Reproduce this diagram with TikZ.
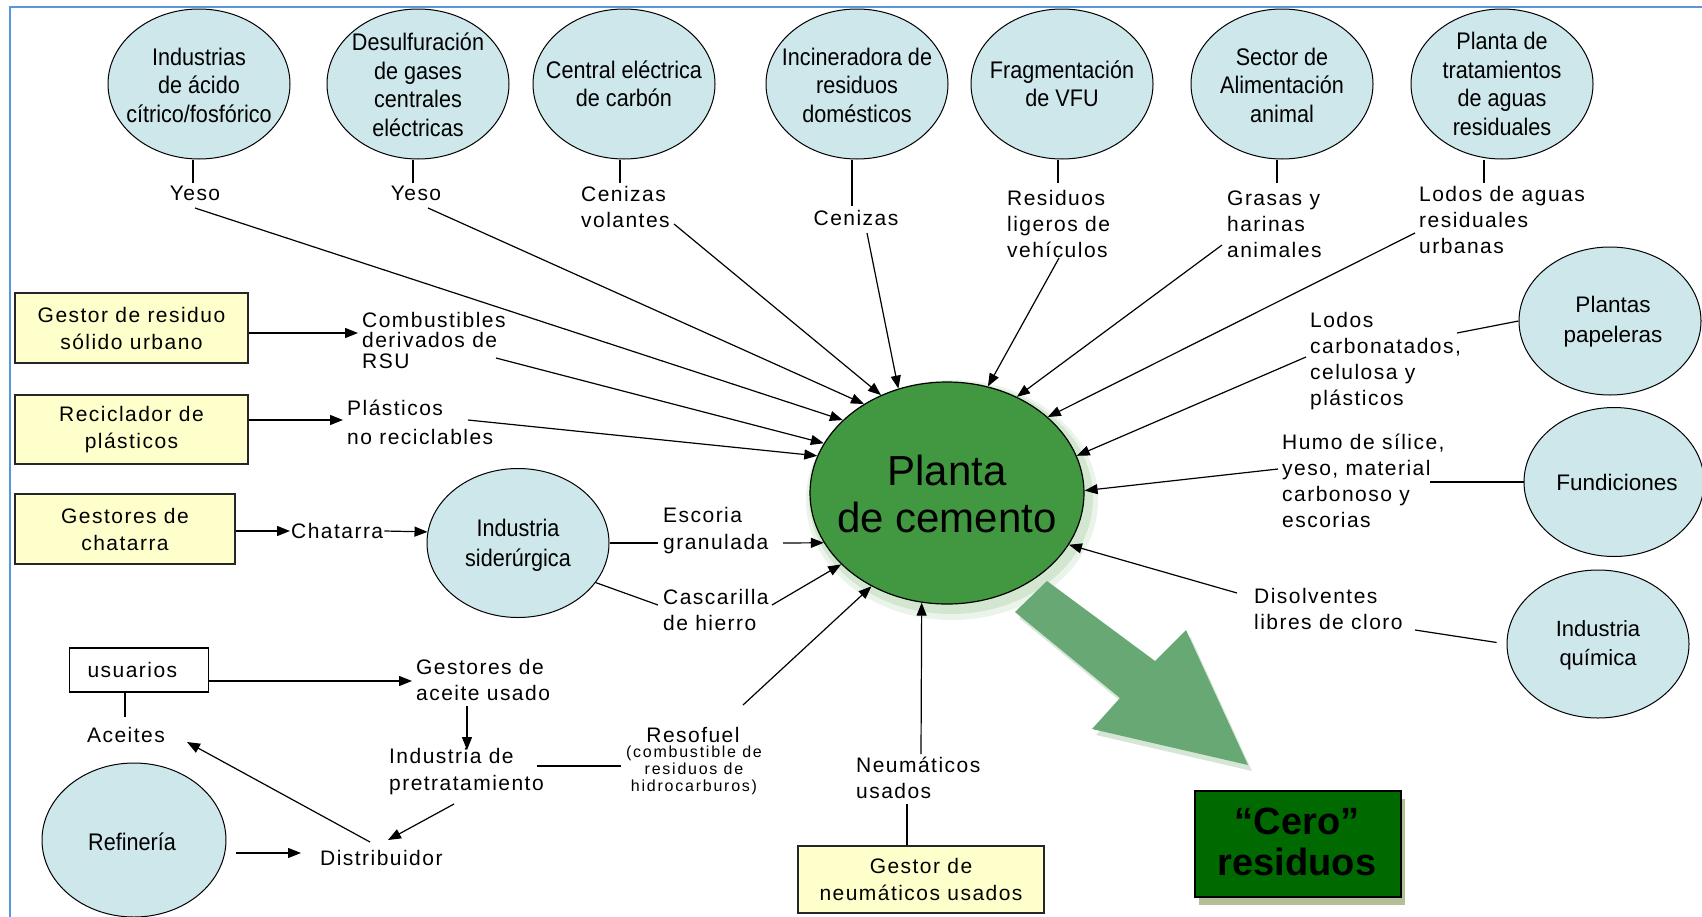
\documentclass[tikz,border=0pt]{standalone}
\usepackage{fontspec}
\setmainfont{Liberation Sans}
\newfontfamily\narrowf[FakeStretch=0.9]{Liberation Sans}
\newfontfamily\spacedf[LetterSpace=7]{Liberation Sans}
\newfontfamily\tinyf[LetterSpace=11]{Liberation Sans}
\usetikzlibrary{shapes.geometric,arrows.meta}
\definecolor{ecyan}{RGB}{205,231,235}
\definecolor{byellow}{RGB}{255,255,204}
\definecolor{cemgreen}{RGB}{65,152,65}
\definecolor{cemglow}{RGB}{60,150,50}
\definecolor{arrgreen}{RGB}{103,168,117}
\definecolor{cerogreen}{RGB}{0,106,0}
\definecolor{ceroshadow}{RGB}{85,115,25}
\definecolor{frameblue}{RGB}{90,150,220}
\tikzset{
 ln/.style={line width=1.2pt, draw=black},
 arr/.style={ln, -{Triangle[length=13pt,width=10pt]}},
 src/.style={ellipse, draw=black, line width=1pt, fill=ecyan, inner sep=0pt, minimum width=182pt, minimum height=150pt},
 etxt/.style={font={\narrowf\fontsize{24}{28.5}\selectfont}, align=center, inner sep=0pt},
 rtxt/.style={font={\fontsize{22.5}{30}\selectfont}, align=center, inner sep=0pt},
 lbl/.style={font={\spacedf\fontsize{21}{26}\selectfont}, align=left, inner sep=1pt},
 ybox/.style={rectangle, draw=black!85, line width=1.2pt, fill=byellow, align=center, font={\spacedf\fontsize{21}{27}\selectfont}, inner sep=0pt},
}
\begin{document}
\begin{tikzpicture}[x=1pt,y=-1pt]
\useasboundingbox (0,0) rectangle (1702,916);
\fill[white] (0,0) rectangle (1702,916);
\draw[frameblue, line width=2pt] (10,920) -- (10,7) -- (1706,7);

% ---------- top source ellipses ----------
\node[src] (e1) at (199,84) {};
\node[etxt] (t1) at (199,85) {Industrias\\de ácido\\cítrico/fosfórico};
\node[src] (e2) at (418,84) {};
\node[etxt] (t2) at (418,85) {Desulfuración\\de gases\\centrales\\eléctricas};
\node[src] (e3) at (624,84) {};
\node[etxt] (t3) at (624,84) {Central eléctrica\\de carbón};
\node[src] (e4) at (857,84) {};
\node[etxt] (t4) at (857,85) {Incineradora de\\residuos\\domésticos};
\node[src] (e5) at (1062,84) {};
\node[etxt] (t5) at (1062,84) {Fragmentación\\de VFU};
\node[src] (e6) at (1282,84) {};
\node[etxt] (t6) at (1282,85) {Sector de\\Alimentación\\animal};
\node[src] (e7) at (1502,84) {};
\node[etxt] (t7) at (1502,84) {Planta de\\tratamientos\\de aguas\\residuales};

% ---------- top labels ----------
\node[lbl] (y1) at (195,193) {Yeso};
\node[lbl] (y2) at (416,193) {Yeso};
\node[lbl, anchor=west] (cv) at (580,206.5) {Cenizas\\volantes};
\node[lbl] (cz) at (856,218) {Cenizas};
\node[lbl, anchor=west] (rl) at (1006,224) {Residuos\\ligeros de\\vehículos};
\node[lbl, anchor=west] (gh) at (1226,224) {Grasas y\\harinas\\animales};
\node[lbl, anchor=west] (la) at (1418,220) {Lodos de aguas\\residuales\\urbanas};

\coordinate (s1) at (193,183);
\coordinate (s2) at (413,183);
\coordinate (s3) at (620,183);
\coordinate (s4) at (852,206);
\coordinate (s5) at (1058,183);
\coordinate (s6) at (1277,183);
\coordinate (s7) at (1484,183);
\draw[ln] (e1.south -| s1) -- (s1);
\draw[ln] (e2.south -| s2) -- (s2);
\draw[ln] (e3.south -| s3) -- (s3);
\draw[ln] (e4.south -| s4) -- (s4);
\draw[ln] (e5.south -| s5) -- (s5);
\draw[ln] (e6.south -| s6) -- (s6);
\draw[ln] (e7.south -| s7) -- (s7);

% ---------- central plant ----------
\fill[cemglow, opacity=0.10] (952,500) ellipse [x radius=146pt, y radius=120pt];
\fill[cemglow, opacity=0.14] (951,498) ellipse [x radius=142pt, y radius=116pt];
\node[ellipse, draw=black, line width=1.2pt, fill=cemgreen, inner sep=0pt, minimum width=274pt, minimum height=222pt] (cem) at (947,493) {};
\node[font={\fontsize{42}{47}\selectfont}, align=center, inner sep=0pt] (cemtxt) at (947,494) {Planta\\de cemento};

% ---------- big arrow ----------
\fill[green!40!black, opacity=0.16] (1051,587) -- (1159,667) -- (1190,636) -- (1252,771) -- (1096,735) -- (1124,704) -- (1019,618) -- cycle;
\fill[arrgreen] (1047,581) -- (1155,661) -- (1186,630) -- (1248,765) -- (1092,729) -- (1120,698) -- (1015,612) -- cycle;

% ---------- Cero residuos ----------
\fill[ceroshadow, opacity=0.45] (1199,799) rectangle (1405,905);
\node[draw=black, line width=1.5pt, fill=cerogreen, minimum width=206pt, minimum height=106pt, inner sep=0pt, align=center, font={\bfseries\fontsize{38}{41}\selectfont}] (cero) at (1298,844) {};
\node[align=center, inner sep=0pt, font={\bfseries\fontsize{38}{41}\selectfont}] (cerotxt) at (1297,842) {“Cero”\\residuos};

% ---------- left yellow boxes ----------
\node[ybox, minimum width=233pt, minimum height=70pt] (b1) at (131.5,328) {Gestor de residuo\\sólido urbano};
\node[ybox, minimum width=233pt, minimum height=69pt] (b2) at (131.5,429.5) {Reciclador de\\plásticos};
\node[ybox, minimum width=220pt, minimum height=70pt] (b3) at (125,529) {Gestores de\\chatarra};

\node[lbl, anchor=west, font={\spacedf\fontsize{21}{20.5}\selectfont}] (cb) at (361,340) {Combustibles\\derivados de\\RSU};
\node[lbl, anchor=west, font={\spacedf\fontsize{21}{29}\selectfont}] (pl) at (346,422.5) {Plásticos\\no reciclables};
\node[lbl, anchor=west] (ch) at (290,531) {Chatarra};

\coordinate (c1) at (358,333);
\coordinate (c2) at (343,420);
\draw[arr] (b1.east |- c1) -- (c1);
\draw[arr] (b2.east |- c2) -- (c2);
\draw[arr] (b3.east |- ch.west) -- (ch.west);

% ---------- siderurgica ----------
\node[src, minimum height=149pt] (sid) at (518,543) {};
\node[etxt, font={\narrowf\fontsize{24}{30}\selectfont}] (sidt) at (518,545) {Industria\\siderúrgica};
\draw[arr] (ch.east) -- (sid.173);
\node[lbl, anchor=west, font={\spacedf\fontsize{21}{27}\selectfont}] (es) at (662,530.5) {Escoria\\granulada};
\node[lbl, anchor=west] (cs) at (662,610) {Cascarilla\\de hierro};
\coordinate (esc1) at (658,543);
\coordinate (cas1) at (658,605);
\draw[ln] (sid.east) -- (esc1);
\draw[ln] (sid.333) -- (cas1);

% ---------- right sources ----------
\node[src, minimum height=148pt] (pp) at (1610,321) {};
\node[rtxt] (ppt) at (1613,322) {Plantas\\papeleras};
\node[src, minimum width=180pt, minimum height=149pt] (fu) at (1614,482) {};
\node[rtxt] (fut) at (1617,482) {Fundiciones};
\node[src, minimum height=148pt] (iq) at (1598,644) {};
\node[rtxt, font={\fontsize{22}{29}\selectfont}] (iqt) at (1598,645) {Industria\\química};

\node[lbl, anchor=west] (lc) at (1309,361) {Lodos\\carbonatados,\\celulosa y\\plásticos};
\node[lbl, anchor=west] (hu) at (1281,481) {Humo de sílice,\\yeso, material\\carbonoso y\\escorias};
\node[lbl, anchor=west] (ds) at (1253,609) {Disolventes\\libres de cloro};
\coordinate (lc1) at (1457,333);
\coordinate (hu1) at (1430,482);
\coordinate (ds1) at (1415,630);
\draw[ln] (lc1) -- (pp.west);
\draw[ln] (hu1) -- (fu.west);
\draw[ln, shorten >=10pt] (ds1) -- (iq.west);

% ---------- tyres ----------
\node[ybox, minimum width=246pt, minimum height=67pt] (nb) at (921,879.5) {Gestor de\\neumáticos usados};
\node[lbl, anchor=west] (nu) at (855,777.5) {Neumáticos\\usados};
\coordinate (n1) at (907,804);
\draw[ln] (nb.north -| n1) -- (n1);

% ---------- lower left (oil) ----------
\node[draw=black, line width=1.2pt, fill=white, anchor=west, minimum height=44pt, text width=103pt, inner xsep=18pt, inner ysep=0pt, align=left, font={\spacedf\fontsize{21}{26}\selectfont}] (us) at (69,670) {usuarios};
\node[lbl] (ac) at (126,735) {Aceites};
\node[lbl, anchor=west] (ga) at (415,679.5) {Gestores de\\aceite usado};
\node[lbl, anchor=west, font={\spacedf\fontsize{21}{27}\selectfont}] (ip) at (388,772) {Industria de\\pretratamiento};
\node[lbl, anchor=west] (di) at (319,858) {Distribuidor};
\node[src, minimum width=184pt, minimum height=154pt] (rf) at (134,840) {};
\node[etxt] (rft) at (132,842) {Refinería};
\node[lbl] (rs) at (693,735) {Resofuel};
\node[font={\tinyf\fontsize{16}{17}\selectfont}, align=center, inner sep=0pt] (rsd) at (694,770) {(combustible de\\residuos de\\hidrocarburos)};

\coordinate (ac1) at (125,717);
\coordinate (ga1) at (467,706);
\coordinate (ip1) at (467,750);
\coordinate (rf1) at (236,853);
\coordinate (rf2) at (301,853);
\coordinate (di1) at (370,842);
\coordinate (ac2) at (187,742);
\coordinate (ip2) at (454,804);
\coordinate (di2) at (388,840);
\coordinate (r0) at (537,766);
\coordinate (r1) at (621,766);
\coordinate (g0) at (412,681);
\draw[arr] (us.east |- g0) -- (g0);
\draw[ln] (us.south -| ac1) -- (ac1);
\draw[arr] (ga1) -- (ip1);
\draw[arr] (rf1) -- (rf2);
\draw[arr] (di1) -- (ac2);
\draw[arr] (ip2) -- (di2);
\draw[ln] (r0) -- (r1);

% ---------- arrows into the cement plant ----------
\coordinate (a1) at (195,208);
\coordinate (a2) at (428,208);
\coordinate (a3) at (674,224);
\coordinate (a4) at (867,233);
\coordinate (a5) at (1059,258);
\coordinate (a6) at (1222,245);
\coordinate (a7) at (1415,233);
\coordinate (a8) at (496,358);
\coordinate (a9) at (468,420);
\coordinate (a10) at (783,543);
\coordinate (a11) at (772,605);
\coordinate (a12) at (743,705);
\coordinate (a13) at (921,754);
\coordinate (a14) at (1237,593);
\coordinate (a15) at (1278,469);
\coordinate (a16) at (1306,357);
\draw[arr] (a1) -- (cem.145.8);
\draw[arr] (a2) -- (cem.133.3);
\draw[arr] (a3) -- (cem.124.8);
\draw[arr] (a4) -- (cem.115.7);
\draw[arr] (a5) -- (cem.69);
\draw[arr] (a6) -- (cem.54.6);
\draw[arr] (a7) -- (cem.37.2);
\draw[arr] (a8) -- (cem.158.8);
\draw[arr] (a9) -- (cem.164.6);
\draw[arr] (a10) -- (cem.202.2);
\draw[arr] (a11) -- (cem.214.5);
\draw[arr] (a12) -- (cem.231.2);
\draw[arr] (a13) -- (cem.257);
\draw[arr] (a14) -- (cem.337.6);
\draw[arr] (a15) -- (cem.1);
\draw[arr] (a16) -- (cem.16.8);
\end{tikzpicture}
\end{document}
